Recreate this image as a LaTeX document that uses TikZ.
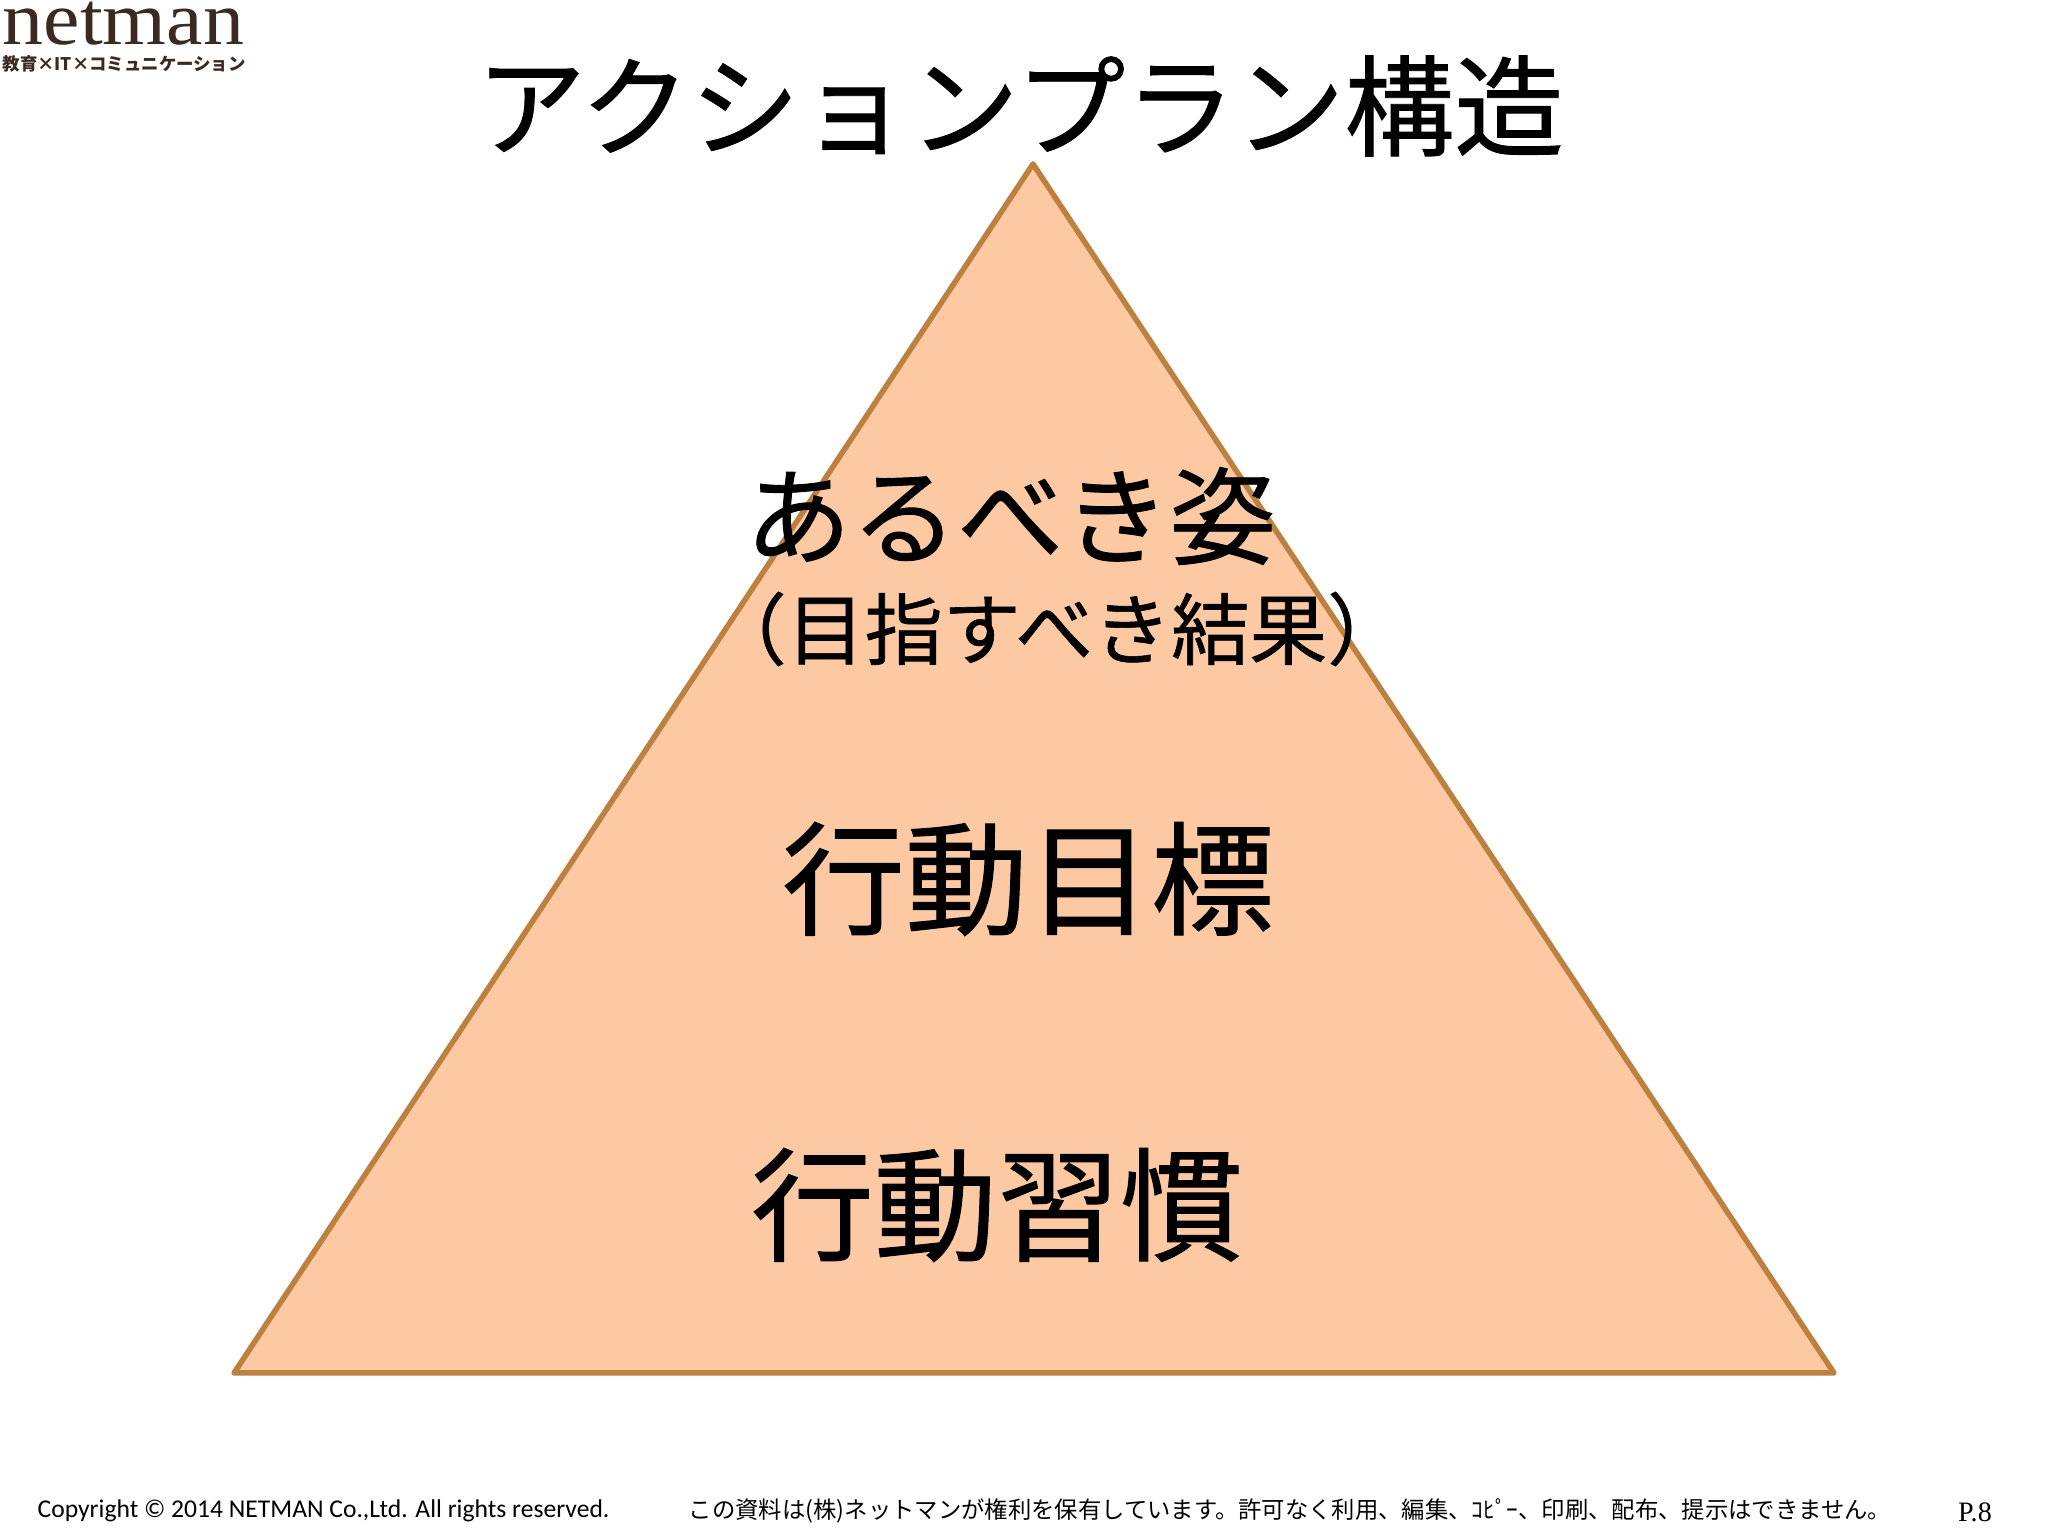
\documentclass[tikz,border=0pt]{standalone}
\usepackage{fontspec}
\setmainfont{Liberation Serif}
\newfontfamily\jpfont[FakeBold=0.8]{Noto Sans CJK JP}
\newfontfamily\smallfont{Noto Sans CJK JP}
\newfontfamily\footfont{Carlito}
\newfontfamily\logofont[FakeStretch=1.085]{Liberation Serif}
\definecolor{pyrfill}{HTML}{FCC9A3}
\definecolor{pyredge}{HTML}{BC8040}
\definecolor{logobrown}{HTML}{3A2A22}
\tikzset{
  jptext/.style={font=\jpfont, inner sep=0pt, text=black},
  foot/.style={inner sep=0pt, text=black}
}
\begin{document}
\begin{tikzpicture}
\useasboundingbox (0,0) rectangle (20.48,15.36);
\fill[white] (0,0) rectangle (20.48,15.36);
% triangle
\coordinate (apex) at (10.33,13.72);
\coordinate (baseL) at (2.34,1.63);
\coordinate (baseR) at (18.34,1.63);
\draw[pyredge, fill=pyrfill, line width=0.055cm, line join=round] (apex) -- (baseL) -- (baseR) -- cycle;
% logo
\node[inner sep=0pt, anchor=base west, text=logobrown] (logo) at (0.02,14.91) {\logofont\fontsize{21.5}{21.5}\selectfont netman};
\node[inner sep=0pt, anchor=west, text=logobrown] (logosub) at (0.02,14.72) {\smallfont\fontsize{4.95}{5}\selectfont\bfseries 教育×IT×コミュニケーション};
% texts
\node[jptext] (title) at (10.2,14.3) {\fontsize{31.2}{31.2}\selectfont アクションプラン構造};
\node[jptext] (goal) at (10.105,10.2) {\fontsize{30.2}{30.2}\selectfont あるべき姿};
\node[jptext] (goalsub) at (10.57,9.07) {\fontsize{22.2}{22.2}\selectfont （目指すべき結果）};
\node[jptext] (target) at (10.28,6.57) {\fontsize{35}{35}\selectfont 行動目標};
\node[jptext] (habit) at (9.97,3.31) {\fontsize{35}{35}\selectfont 行動習慣};
% footer
\node[foot, anchor=west] (copy) at (0.37,0.25) {\footfont\fontsize{7.28}{7.28}\selectfont Copyright © 2014 NETMAN Co.,Ltd. All rights reserved.};
\node[inner sep=0pt] (notice) at (12.9,0.25) {\smallfont\fontsize{6.64}{6.64}\selectfont この資料は(株)ネットマンが権利を保有しています。許可なく利用、編集、ｺﾋﾟｰ、印刷、配布、提示はできません。};
\node[foot] (page) at (19.75,0.24) {\fontsize{8}{8}\selectfont P.8};
\end{tikzpicture}
\end{document}
